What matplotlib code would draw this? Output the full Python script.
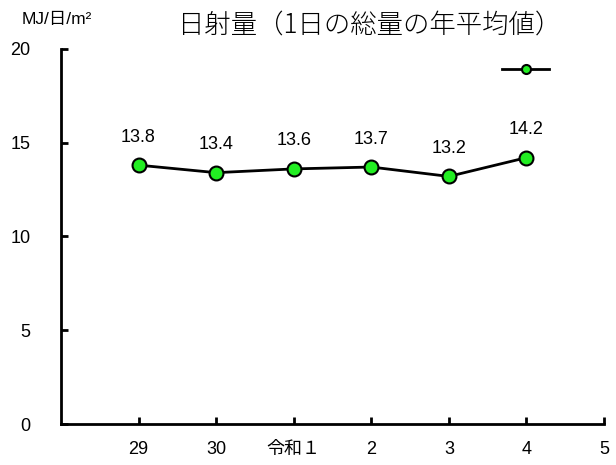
import matplotlib
matplotlib.use("Agg")
import matplotlib.pyplot as plt

plt.rcParams['font.family'] = ['Liberation Sans', 'Noto Sans CJK JP', 'DejaVu Sans']

# data
years = ['29', '30', '令和１', '2', '3', '4', '5']
values = [13.8, 13.4, 13.6, 13.7, 13.2, 14.2]
title = '日射量（1日の総量の年平均値）'
unit = 'MJ/日/m²'

fig = plt.figure(figsize=(6.16, 4.65), dpi=100)
ax = fig.add_axes([0.099, 0.088, 0.8815, 0.807])

xs = list(range(1, len(values) + 1))
ax.plot(xs, values, color='black', lw=2, marker='o', markersize=10,
        markerfacecolor='#22ee22', markeredgecolor='black', markeredgewidth=1.5,
        label=' ')

for x, v in zip(xs, values):
    ax.annotate(f'{v:.1f}', (x, v), xytext=(0, 14), textcoords='offset points',
                ha='center', va='bottom', fontsize=13)

ax.set_xlim(0, 7)
ax.set_ylim(0, 20)
ax.set_yticks([0, 5, 10, 15, 20])
ax.set_xticks(range(1, 8))
ax.set_xticklabels(years)

for s in ['top', 'right']:
    ax.spines[s].set_visible(False)
for s in ['left', 'bottom']:
    ax.spines[s].set_linewidth(2)

ax.tick_params(axis='both', direction='in', length=5, width=2, labelsize=13)
ax.tick_params(axis='y', pad=22)
ax.tick_params(axis='x', pad=12)

leg = ax.legend(loc='upper right', bbox_to_anchor=(0.95, 0.995), frameon=False,
                handlelength=3.4, markerscale=0.65, fontsize=10)

fig.text(0.6, 0.948, title, ha='center', va='center', fontsize=19,
         fontweight='light', family=['Noto Sans CJK JP', 'DejaVu Sans'])
fig.text(0.035, 0.958, unit, ha='left', va='center', fontsize=12.5)

fig.savefig('out.png', dpi=100)
